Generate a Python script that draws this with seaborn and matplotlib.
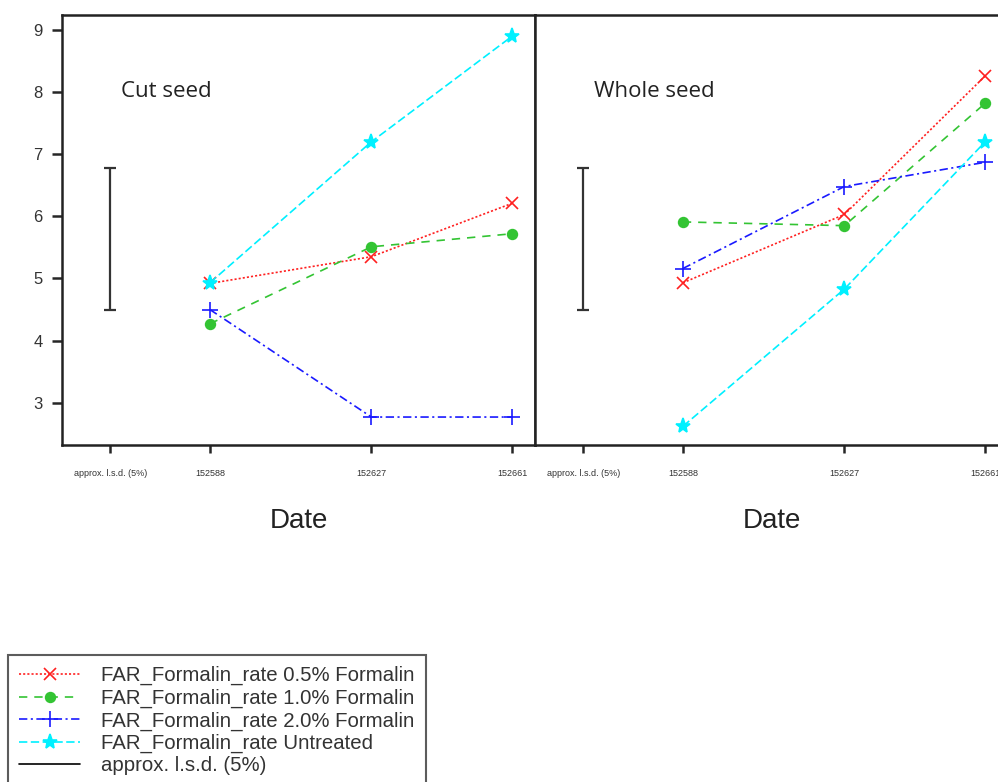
import numpy as np
import pandas as pd
import seaborn as sns
import matplotlib
matplotlib.use('Agg')
import matplotlib.pyplot as plt
from matplotlib.lines import Line2D

# ---- data ----
dates = [152588, 152627, 152661]
treatments = ['0.5% Formalin', '1.0% Formalin', '2.0% Formalin', 'Untreated']

cut_05 = [4.92, 5.35, 6.21]
cut_10 = [4.27, 5.51, 5.72]
cut_20 = [4.50, 2.77, 2.77]
cut_un = [4.93, 7.20, 8.90]

whole_05 = [4.93, 6.03, 8.26]
whole_10 = [5.91, 5.85, 7.82]
whole_20 = [5.16, 6.48, 6.87]
whole_un = [2.62, 4.83, 7.20]

lsd_low = 4.49
lsd_high = 6.77
lsd_label = 'approx. l.s.d. (5%)'
panel_titles = ['Cut seed', 'Whole seed']

# ---- styling ----
sns.set_style('white')
plt.rcParams['font.family'] = ['Liberation Sans', 'DejaVu Sans']
plt.rcParams['lines.scale_dashes'] = False

colors = {'0.5% Formalin': '#ff2020', '1.0% Formalin': '#33c433',
          '2.0% Formalin': '#1a1aff', 'Untreated': '#00f0ff'}
markers = {'0.5% Formalin': 'x', '1.0% Formalin': 'o',
           '2.0% Formalin': '+', 'Untreated': '*'}
dashes = {'0.5% Formalin': (1.5, 1.5), '1.0% Formalin': (6, 5),
          '2.0% Formalin': (6, 2.5, 1.5, 2.5), 'Untreated': (6, 2.5)}
msizes = {'0.5% Formalin': 9, '1.0% Formalin': 7,
          '2.0% Formalin': 11, 'Untreated': 11}

LSD_X = 152564          # position of the l.s.d. "tick"
XLIM = (152552.3, 152666.5)
YLIM = (2.32, 9.24)


def make_long(vals):
    rows = []
    for t, v in zip(treatments, vals):
        for d, y in zip(dates, v):
            rows.append({'Date': d, 'value': y, 'treat': t})
    return pd.DataFrame(rows)


def draw_panel(ax, df, title, show_y):
    for t in treatments:
        sub = df[df.treat == t]
        sns.lineplot(data=sub, x='Date', y='value', ax=ax, color=colors[t],
                     marker=markers[t], markersize=msizes[t], linewidth=1.2,
                     markeredgewidth=1.2, markeredgecolor=colors[t],
                     legend=False)
        ax.lines[-1].set_dashes(dashes[t])
    # l.s.d. bar
    ax.errorbar([LSD_X], [(lsd_low + lsd_high) / 2],
                yerr=[(lsd_high - lsd_low) / 2], color='#333333',
                capsize=4, elinewidth=1.6, capthick=1.6, fmt='none')
    ax.set_xlim(XLIM)
    ax.set_ylim(YLIM)
    ax.set_xticks([LSD_X] + dates)
    ax.set_xticklabels([lsd_label] + [str(d) for d in dates], fontsize=6.5,
                       color='#333333')
    ax.set_yticks(range(3, 10))
    ax.tick_params(axis='x', direction='out', length=6, width=1.8, pad=11,
                   bottom=True)
    if show_y:
        ax.tick_params(axis='y', direction='out', length=7, width=1.8,
                       pad=7, labelsize=12, labelcolor='#333333', left=True)
    else:
        ax.tick_params(axis='y', left=False, labelleft=False)
    ax.set_ylabel('')
    ax.set_xlabel('Date', fontsize=20, color='#222222', labelpad=22)
    for s in ax.spines.values():
        s.set_visible(True)
        s.set_linewidth(1.8)
        s.set_color('#222222')
    ax.text(0.125, 0.81, title, transform=ax.transAxes, fontsize=16,
            family=['Open Sans', 'DejaVu Sans'], color='#222222')


fig = plt.figure(figsize=(9.98, 7.82), dpi=100)
ax1 = fig.add_axes([62 / 998, 1 - 445 / 782, 473 / 998, 430 / 782])
ax2 = fig.add_axes([535 / 998, 1 - 445 / 782, 473 / 998, 430 / 782])

draw_panel(ax1, make_long([cut_05, cut_10, cut_20, cut_un]), panel_titles[0], True)
draw_panel(ax2, make_long([whole_05, whole_10, whole_20, whole_un]), panel_titles[1], False)

# legend
handles = []
for t in treatments:
    handles.append(Line2D([0], [0], color=colors[t], marker=markers[t],
                          markersize=msizes[t], linewidth=1.2,
                          dashes=dashes[t], markeredgewidth=1.2))
handles.append(Line2D([0], [0], color='black', linewidth=1.2))
labels = ['FAR_Formalin_rate ' + t for t in treatments] + [lsd_label]
leg = fig.legend(handles, labels, loc='upper left',
                 bbox_to_anchor=(8 / 998, 1 - 655 / 782), borderaxespad=0,
                 fontsize=14.7, handlelength=3.0, handletextpad=1.0,
                 labelspacing=0.16, borderpad=0.55, frameon=True,
                 fancybox=False, edgecolor='#333333', labelcolor='#333333')
leg.get_frame().set_linewidth(1.5)

fig.savefig('out.png', dpi=100)
